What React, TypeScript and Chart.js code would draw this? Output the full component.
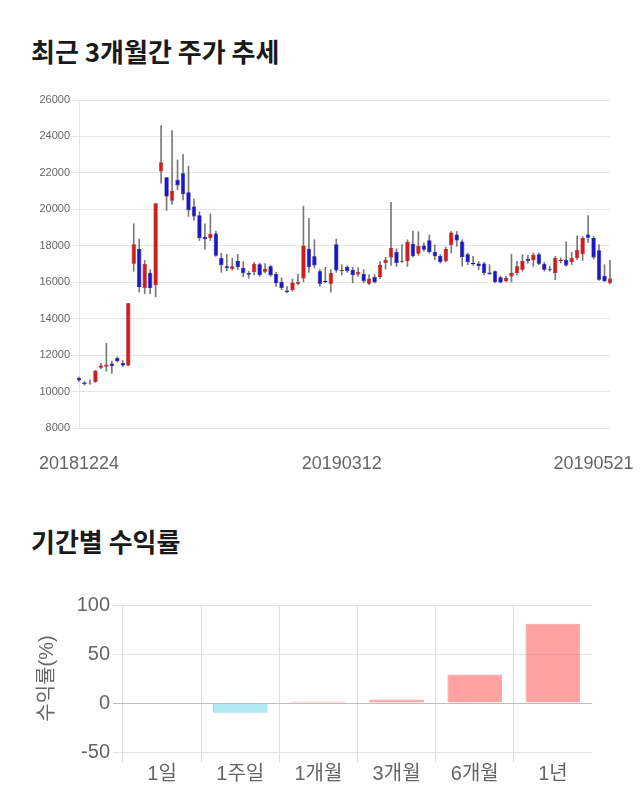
import { useEffect, useRef } from 'react';
import { Chart, registerables } from 'chart.js';

Chart.register(...registerables);

// ---- Top chart: daily candles (Dec 2018 – May 2019) ----
const opens = [
  10750, 10500, 10450, 10520, 11300, 11360, 11540, 11850, 11570, 11430,
  17020, 17820, 15680, 16520, 15830, 22070, 21760, 20470, 21620, 21980,
  20940, 20160, 19680, 18490, 18420, 18680, 17330, 16870, 16720, 17160,
  16780, 16500, 16560, 16980, 16580, 16870, 16450, 16030, 15540, 15560,
  15920, 16210, 17840, 17420, 16600, 16070, 15920, 18090, 16610, 16830,
  16690, 16430, 16450, 15920, 16290, 16290, 17050, 17360, 17670, 17130,
  17150, 18110, 17560, 18020, 18310, 17670, 17440, 17150, 18040, 18620,
  18240, 17530, 17050, 17030, 17030, 16540, 16600, 16270, 16070, 16320,
  16500, 16690, 17290, 17200, 17530, 17020, 16740, 16510, 17160, 17220,
  17110, 17310, 17530, 18620, 18420, 17760, 16360, 15950,
];
const highs = [
  10800, 10550, 10650, 11150, 11550, 12650, 11670, 11900, 11700, 14840,
  19210, 18370, 17200, 16690, 20340, 24590, 21760, 24320, 22710, 23020,
  22380, 20560, 19860, 19210, 19760, 18800, 17600, 17530, 17310, 17530,
  17130, 16600, 17090, 17050, 17020, 16940, 16540, 16230, 15770, 16170,
  16450, 20170, 19500, 18330, 16690, 16820, 16690, 18370, 16960, 16910,
  16830, 16800, 16690, 16400, 16420, 17130, 17360, 20390, 17840, 18060,
  18330, 18800, 18770, 18150, 18590, 18040, 17510, 17930, 18790, 18790,
  18330, 17600, 17420, 17140, 17090, 16960, 16630, 16320, 16320, 17530,
  17140, 17510, 17470, 17600, 17600, 17090, 16870, 17420, 17330, 18220,
  17640, 18550, 18510, 19660, 18510, 18060, 16960, 17200,
];
const lows = [
  10550, 10350, 10400, 10500, 11250, 11120, 10990, 11600, 11350, 11400,
  16600, 15460, 15370, 15370, 15190, 21430, 19940, 20270, 21070, 20520,
  19610, 19390, 18290, 17820, 18290, 17420, 16540, 16630, 16670, 16690,
  16290, 16230, 16400, 16320, 16510, 16320, 15770, 15590, 15410, 15500,
  15870, 16030, 16540, 16780, 15770, 15960, 15460, 16540, 16400, 16540,
  15960, 16320, 15960, 15870, 15960, 16210, 16720, 16920, 16870, 17090,
  16870, 17380, 17470, 17710, 17600, 17230, 17050, 17110, 17600, 17970,
  16870, 16960, 16920, 16690, 16400, 16410, 15960, 15960, 16010, 16010,
  16400, 16600, 17050, 16870, 16960, 16600, 16600, 16140, 17050, 16870,
  16960, 17240, 17200, 18180, 17270, 16100, 16030, 15900,
];
const closes = [
  10600, 10400, 10480, 11150, 11430, 11480, 11390, 11680, 11430, 14840,
  18090, 15740, 17000, 15680, 20340, 22590, 20700, 21020, 21310, 20830,
  19970, 19610, 18420, 18370, 18660, 17450, 16930, 16760, 16870, 16830,
  16500, 16410, 17020, 16380, 16720, 16380, 15960, 15680, 15460, 15990,
  16030, 18020, 16830, 16920, 15920, 16010, 16510, 16650, 16690, 16600,
  16400, 16580, 16050, 16210, 15990, 16940, 17240, 17880, 17050, 17180,
  18220, 17420, 18000, 17780, 17650, 17420, 17110, 17820, 18730, 18290,
  17380, 17110, 16980, 16890, 16500, 16450, 16010, 15980, 16230, 16500,
  16870, 17160, 17160, 17510, 17020, 16690, 16690, 17330, 17220, 16920,
  17330, 17770, 18420, 18440, 17360, 16140, 16070, 16200,
];
// x tick labels shown under the candle chart (candle index -> label)
const xTickIndex = [0, 48, 94];
const xTickText = ['20181224', '20190312', '20190521'];
const priceMin = 8000;
const priceMax = 26000;
const priceStep = 2000;

// ---- Bottom chart: returns by period ----
const periods = ['1일', '1주일', '1개월', '3개월', '6개월', '1년'];
const returns = [0, -10, 1.6, 3.5, 29, 80.8];
const returnMin = -50;
const returnMax = 100;
const returnStep = 50;

const FONT = "'Liberation Sans', 'Noto Sans CJK KR', sans-serif";

export default function App() {
  const topRef = useRef<HTMLCanvasElement>(null);
  const botRef = useRef<HTMLCanvasElement>(null);

  useEffect(() => {
    Chart.defaults.font.family = FONT;
    const labels = opens.map((_, i) => String(i));
    const up = opens.map((o, i) => closes[i] >= o);
    const bodyColors = up.map((u) => (u ? '#cf1d1d' : '#1818c4'));
    const bodyBorders = up.map((u) => (u ? '#b51414' : '#10109e'));

    const top = new Chart(topRef.current!, {
      type: 'bar',
      data: {
        labels,
        datasets: [
          {
            label: 'body',
            data: opens.map((o, i) => [Math.min(o, closes[i]), Math.max(o, closes[i])]) as any,
            backgroundColor: bodyColors,
            borderColor: bodyBorders,
            borderWidth: 0.6,
            borderSkipped: false,
            grouped: false,
            barPercentage: 0.8,
            categoryPercentage: 1,
            clip: false as any,
            order: 0,
          },
          {
            label: 'wick',
            data: lows.map((l, i) => [l, highs[i]]) as any,
            backgroundColor: '#7a7a7a',
            borderWidth: 0,
            grouped: false,
            barThickness: 1,
            clip: false as any,
            order: 1,
          },
        ],
      },
      options: {
        responsive: false,
        animation: false,
        layout: { padding: { left: 0, right: 30, top: 15, bottom: 12 } },
        plugins: { legend: { display: false }, tooltip: { enabled: false } },
        scales: {
          x: {
            offset: false,
            grid: { display: false, drawTicks: false },
            border: { display: false },
            ticks: {
              autoSkip: false,
              maxRotation: 0,
              minRotation: 0,
              padding: 25,
              color: '#666',
              font: { size: 18, family: FONT },
              callback: (_v: any, i: number) => {
                const k = xTickIndex.indexOf(i);
                return k >= 0 ? xTickText[k] : '';
              },
            },
            afterFit: (s: any) => {
              s.height = 45;
            },
          },
          y: {
            min: priceMin,
            max: priceMax,
            ticks: {
              stepSize: priceStep,
              color: '#666',
              font: { size: 11, family: FONT },
              padding: 1,
              callback: (v: any) => String(v),
            },
            grid: { color: '#e6e6e6', tickLength: 8 },
            border: { color: '#e6e6e6' },
            afterFit: (s: any) => {
              s.width = 79;
            },
          },
        },
      },
    });

    const bot = new Chart(botRef.current!, {
      type: 'bar',
      data: {
        labels: periods,
        datasets: [
          {
            label: '수익률',
            data: returns,
            backgroundColor: returns.map((v) => (v < 0 ? 'rgba(110,212,232,0.52)' : 'rgba(255,100,100,0.6)')),
            borderColor: returns.map((v) => (v < 0 ? 'rgba(90,190,215,0.6)' : 'rgba(235,110,110,0.6)')),
            borderWidth: 1,
            barPercentage: 0.875,
            categoryPercentage: 0.8,
          },
        ],
      },
      options: {
        responsive: false,
        animation: false,
        layout: { padding: { left: 31, right: 48, top: 25, bottom: 14 } },
        plugins: { legend: { display: false }, tooltip: { enabled: false } },
        scales: {
          x: {
            grid: {
              offset: true,
              tickLength: 10,
              color: (ctx: any) => (ctx.type === 'tick' ? '#dcdcdc' : 'rgba(0,0,0,0)'),
            },
            border: { display: false },
            ticks: { color: '#666', font: { size: 20, family: FONT }, padding: 0 },
          },
          y: {
            min: returnMin,
            max: returnMax,
            ticks: { stepSize: returnStep, color: '#666', font: { size: 20, family: FONT }, padding: 3 },
            grid: {
              tickLength: 10,
              color: (ctx: any) => (ctx.tick && ctx.tick.value === 0 ? '#bdbdbd' : '#e3e3e3'),
            },
            border: { display: false },
            title: {
              display: true,
              text: '수익률(%)',
              color: '#666',
              font: { size: 20, family: FONT },
              padding: { top: 4, bottom: 4 },
            },
            afterFit: (s: any) => {
              s.width = 92;
            },
          },
        },
      },
    });

    return () => {
      top.destroy();
      bot.destroy();
    };
  }, []);

  const titleStyle: React.CSSProperties = {
    position: 'absolute',
    left: 31,
    fontFamily: "'Noto Sans CJK KR', sans-serif",
    fontWeight: 700,
    fontSize: 26,
    lineHeight: '26px',
    color: '#1a1a1a',
    whiteSpace: 'nowrap',
  };

  return (
    <div style={{ position: 'absolute', left: 0, top: 0, width: 640, height: 810, background: '#fff' }}>
      <div style={{ ...titleStyle, top: 38 }}>최근 3개월간 주가 추세</div>
      <canvas
        ref={topRef}
        width={640}
        height={400}
        style={{ position: 'absolute', left: 0, top: 85, width: 640, height: 400 }}
      />
      <div style={{ ...titleStyle, top: 528 }}>기간별 수익률</div>
      <canvas
        ref={botRef}
        width={640}
        height={220}
        style={{ position: 'absolute', left: 0, top: 580, width: 640, height: 220 }}
      />
    </div>
  );
}
